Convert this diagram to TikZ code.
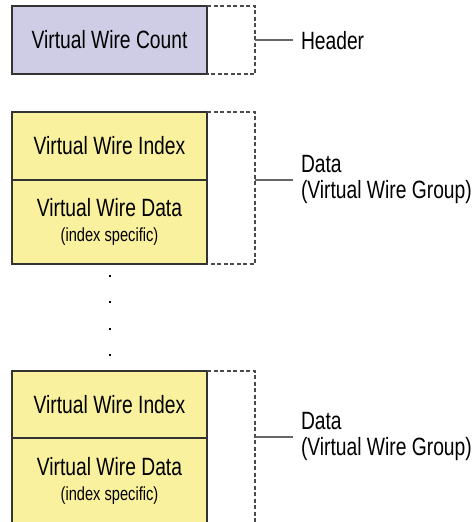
\documentclass[tikz,border=0pt]{standalone}
\usepackage{fontspec}
\setmainfont[FakeStretch=0.77]{Liberation Sans}
\definecolor{lav}{HTML}{CFCDE6}
\definecolor{yel}{HTML}{FAF19E}
\definecolor{boxline}{HTML}{333333}
\definecolor{brk}{HTML}{4A4A4A}
\definecolor{conncol}{HTML}{666666}
\begin{document}
\begin{tikzpicture}[x=1pt,y=-1pt,
  box/.style={draw=boxline, line width=1.3pt, minimum width=195pt, inner sep=0pt, outer sep=0pt, align=center, font=\fontsize{25}{25}\selectfont},
  bracket/.style={draw=brk, line width=1.2pt, dash pattern=on 4pt off 2.5pt},
  conn/.style={draw=conncol, line width=1.3pt},
  lbl/.style={inner xsep=8pt, inner ysep=0pt, outer sep=0pt, align=left, font=\fontsize{25}{26}\selectfont}]
\useasboundingbox (0,0) rectangle (475,522);
% header
\node[box, fill=lav, minimum height=68pt] (hdr) at (109.5,40) {Virtual Wire Count};
% group 1
\node[box, fill=yel, minimum height=68pt] (idx1) at (109.5,146) {Virtual Wire Index};
\node[box, fill=yel, minimum height=84pt] (dat1) at (109.5,222) {Virtual Wire Data\\{\fontsize{19}{20}\selectfont (index specific)}};
% group 2
\node[box, fill=yel, minimum height=67pt] (idx2) at (109.5,404.5) {Virtual Wire Index};
\node[box, fill=yel, minimum height=85pt] (dat2) at (109.5,480.5) {Virtual Wire Data\\{\fontsize{19}{20}\selectfont (index specific)}};
% bracket points
\coordinate (b0) at (255,40);
\coordinate (b1) at (255,180);
\coordinate (b2) at (255,437);
\draw[bracket] (hdr.north east) -| (b0) |- (hdr.south east);
\draw[bracket] (idx1.north east) -| (b1) |- (dat1.south east);
\draw[bracket] (idx2.north east) -| (b2) |- (dat2.south east);
% labels
\node[lbl, anchor=west] (hl) at (293,41) {Header};
\node[lbl, anchor=west] (dl1) at (293,179) {Data\\(Virtual Wire Group)};
\node[lbl, anchor=west] (dl2) at (293,436) {Data\\(Virtual Wire Group)};
\draw[conn] (b0) -- (b0 -| hl.west);
\draw[conn] (b1) -- (b1 -| dl1.west);
\draw[conn] (b2) -- (b2 -| dl2.west);
% dots
\foreach \yy in {275,301,328,354} \fill[black] (108.5,\yy) rectangle ++(2,2);
\end{tikzpicture}
\end{document}
